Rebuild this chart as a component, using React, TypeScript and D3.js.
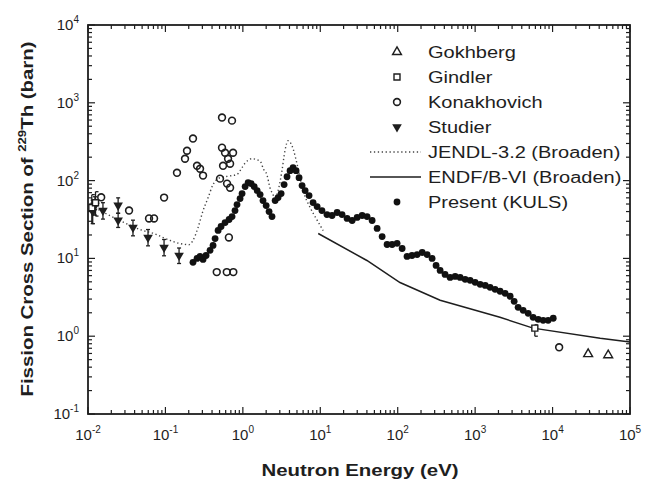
import React from 'react';
import * as d3 from 'd3';

// ---------- data ----------
const xTickExps = [-2, -1, 0, 1, 2, 3, 4, 5];
const yTickExps = [-1, 0, 1, 2, 3, 4];

const legendLabels = [
  'Gokhberg',
  'Gindler',
  'Konakhovich',
  'Studier',
  'JENDL-3.2 (Broaden)',
  'ENDF/B-VI (Broaden)',
  'Present (KULS)',
];

const presentE = [
  0.227, 0.256, 0.28, 0.306, 0.335, 0.377, 0.412, 0.438, 0.479, 0.523, 0.589, 0.664, 0.725, 0.792, 0.841,
  0.92, 0.977, 1.07, 1.17, 1.28, 1.4, 1.53, 1.67, 1.82, 2.0, 2.18, 2.38, 2.61, 2.85, 3.12, 3.41, 3.72, 4.07,
  4.45, 4.87, 5.32, 5.82, 6.37, 7.16, 8.07, 9.1, 10.5, 12.2, 14.2, 16.5, 19.1, 22.2, 25.8, 29.9, 34.7, 40.2,
  46.7, 54.2, 62.9, 72.9, 84.7, 98.2, 114, 132, 153, 178, 207, 240, 278, 313, 353, 409, 475, 552, 640, 743,
  861, 1000, 1160, 1350, 1560, 1810, 2100, 2440, 2830, 3190, 3590, 4170, 4840, 5610, 6520, 7560, 8770, 10200,
];
const presentXS = [
  8.9, 10.0, 10.6, 9.7, 10.9, 12.7, 14.7, 18.0, 22.9, 25.7, 28.9, 31.6, 34.5, 41.2, 49.2,
  58.7, 68.1, 83.7, 94.2, 91.5, 83.7, 74.4, 66.1, 55.4, 47.8, 40.0, 34.5, 55.4, 60.5, 68.1, 88.9, 112, 134,
  147, 134, 109, 86.3, 74.4, 64.2, 52.2, 46.4, 41.2, 36.6, 35.6, 38.9, 36.6, 32.6, 30.7, 33.6, 35.6, 34.5,
  30.7, 24.3, 19.1, 15.1, 15.1, 15.6, 13.4, 10.6, 10.9, 11.2, 11.9, 11.2, 10.0, 8.13, 7.01, 6.23, 5.7, 5.87, 5.7, 5.38,
  5.22, 4.92, 4.64, 4.5, 4.25, 4.01, 3.78, 3.56, 3.26, 2.81, 2.35, 2.15, 1.97, 1.75, 1.65, 1.6, 1.6, 1.7,
];

const studierE = [0.0115, 0.0123, 0.0156, 0.0245, 0.0245, 0.0381, 0.0596, 0.096, 0.15];
const studierXS = [40, 47.8, 41.2, 48, 31, 24.9, 18.6, 13.8, 10.9];
const studierLo = [28, 36, 32, 38, 25, 19.5, 14.5, 10.8, 8.6];
const studierHi = [56, 62, 52, 60, 38, 31, 23.5, 17.5, 13.6];

const gindlerE = [0.0112, 0.0125, 5900];
const gindlerXS = [45, 52, 1.27];
const gindlerLo = [28, 35, 1.0];
const gindlerHi = [66, 72, 1.4];

const gokhbergE = [28800, 52300];
const gokhbergXS = [0.59, 0.57];

const konakE = [
  0.0148, 0.0339, 0.0614, 0.0713, 0.0961, 0.141, 0.179, 0.19, 0.227, 0.256, 0.28, 0.306, 0.538, 0.724,
  0.538, 0.589, 0.747, 0.644, 0.555, 0.684, 0.507, 0.625, 0.684, 0.66, 0.46, 0.62, 0.753, 12160,
];
const konakXS = [
  61, 41.2, 32.6, 32.6, 60.5, 126, 191, 242, 347, 155, 142, 116, 646, 590,
  265, 228, 228, 191, 155, 165, 106, 91.5, 81, 18.6, 6.67, 6.67, 6.67, 0.72,
];

const jendlE = [
  0.01, 0.0253, 0.05, 0.07, 0.1, 0.155, 0.2, 0.227, 0.264, 0.306, 0.355, 0.41, 0.507, 0.65, 0.84, 0.92, 1.07,
  1.31, 1.67, 1.85, 2.04, 2.24, 2.45, 2.61, 2.85, 3.2, 3.5, 3.84, 4.45, 5.0, 6.0, 7.4, 9.1, 10.9,
];
const jendlXS = [
  50, 31, 23, 21, 18, 15.5, 15, 17, 25, 41, 60, 88, 109, 114, 120, 134, 168,
  191, 178, 140, 120, 81, 66, 60, 74, 134, 243, 326, 257, 165, 74, 45, 31, 22.8,
];

const endfE = [9.4, 40, 107, 353, 2090, 5600, 41200, 100000];
const endfXS = [20.9, 9.4, 4.9, 2.9, 1.75, 1.27, 0.94, 0.84];

// ---------- chart ----------
const INK = '#1e1e1e';
const FONT = '"Liberation Sans", Arial, Helvetica, sans-serif';

export default function App() {
  const L = 88, R = 630, T = 25, B = 414;
  const x = d3.scaleLog().domain([1e-2, 1e5]).range([L, R]);
  const y = d3.scaleLog().domain([1e-1, 1e4]).range([B, T]);

  const minorX: number[] = [];
  for (let e = -2; e < 5; e++) for (let m = 2; m <= 9; m++) minorX.push(m * Math.pow(10, e));
  const minorY: number[] = [];
  for (let e = -1; e < 4; e++) for (let m = 2; m <= 9; m++) minorY.push(m * Math.pow(10, e));

  const triUp = d3.symbol().type(d3.symbolTriangle).size(34)() as string;
  const triDown = d3.symbol().type(d3.symbolTriangle).size(40)() as string;
  const square = d3.symbol().type(d3.symbolSquare).size(36)() as string;

  const jendlLine = d3
    .line<number>()
    .x((_, i) => x(jendlE[i]))
    .y((d) => y(d))
    .curve(d3.curveMonotoneX)(jendlXS) as string;
  const endfLine = d3
    .line<number>()
    .x((_, i) => x(endfE[i]))
    .y((d) => y(d))(endfXS) as string;

  const majT = 7, minT = 4;
  const legendX = 397, legendTextX = 428, legendY0 = 52, legendDY = 25;

  return (
    <svg
      width={646}
      height={480}
      viewBox="0 0 646 480"
      style={{ position: 'absolute', left: 0, top: 0, background: '#fff' }}
      fontFamily={FONT}
    >
      <rect x={0} y={0} width={646} height={480} fill="#fff" />

      {/* ticks on all four sides */}
      <g stroke={INK} strokeWidth={1.2}>
        {xTickExps.map((e) => {
          const px = x(Math.pow(10, e));
          return (
            <g key={'xt' + e}>
              <line x1={px} x2={px} y1={B} y2={B - majT} />
              <line x1={px} x2={px} y1={T} y2={T + majT} />
            </g>
          );
        })}
        {minorX.map((v, i) => {
          const px = x(v);
          return (
            <g key={'xm' + i}>
              <line x1={px} x2={px} y1={B} y2={B - minT} />
              <line x1={px} x2={px} y1={T} y2={T + minT} />
            </g>
          );
        })}
        {yTickExps.map((e) => {
          const py = y(Math.pow(10, e));
          return (
            <g key={'yt' + e}>
              <line x1={L} x2={L + majT} y1={py} y2={py} />
              <line x1={R} x2={R - majT} y1={py} y2={py} />
            </g>
          );
        })}
        {minorY.map((v, i) => {
          const py = y(v);
          return (
            <g key={'ym' + i}>
              <line x1={L} x2={L + minT} y1={py} y2={py} />
              <line x1={R} x2={R - minT} y1={py} y2={py} />
            </g>
          );
        })}
      </g>

      {/* frame */}
      <rect x={L} y={T} width={R - L} height={B - T} fill="none" stroke={INK} strokeWidth={1.8} />

      {/* tick labels */}
      <g fill={INK} fontSize={15}>
        {xTickExps.map((e) => (
          <text key={'xl' + e} x={x(Math.pow(10, e))} y={440} textAnchor="middle">
            10
            <tspan fontSize={10} dy={-7}>
              {String(e)}
            </tspan>
          </text>
        ))}
        {yTickExps.map((e) => (
          <text key={'yl' + e} x={79} y={y(Math.pow(10, e)) + 5} textAnchor="end">
            10
            <tspan fontSize={10} dy={-7}>
              {String(e)}
            </tspan>
          </text>
        ))}
      </g>

      {/* axis titles */}
      <text
        transform="translate(360,476) scale(1.2,1)"
        textAnchor="middle"
        fontSize={17}
        fontWeight="bold"
        fill={INK}
      >
        Neutron Energy (eV)
      </text>
      <text
        transform="translate(33,219) rotate(-90) scale(1.2,1)"
        textAnchor="middle"
        fontSize={17}
        fontWeight="bold"
        fill={INK}
      >
        Fission Cross Section of{' '}
        <tspan fontSize={11} dy={-7}>
          229
        </tspan>
        <tspan dy={7}>Th (barn)</tspan>
      </text>

      {/* evaluated curves */}
      <path d={jendlLine} fill="none" stroke="#444" strokeWidth={1.4} strokeDasharray="1.3,2.6" />
      <path d={endfLine} fill="none" stroke={INK} strokeWidth={1.5} />

      {/* Studier with error bars */}
      <g stroke={INK} strokeWidth={1.3}>
        {studierE.map((e, i) => (
          <g key={'se' + i}>
            <line x1={x(e)} x2={x(e)} y1={y(studierLo[i])} y2={y(studierHi[i])} />
            <line x1={x(e) - 2} x2={x(e) + 2} y1={y(studierLo[i])} y2={y(studierLo[i])} />
            <line x1={x(e) - 2} x2={x(e) + 2} y1={y(studierHi[i])} y2={y(studierHi[i])} />
          </g>
        ))}
        {gindlerE.map((e, i) => (
          <g key={'ge' + i}>
            <line x1={x(e)} x2={x(e)} y1={y(gindlerLo[i])} y2={y(gindlerHi[i])} />
            <line x1={x(e)} x2={x(e) + 3} y1={y(gindlerLo[i])} y2={y(gindlerLo[i])} />
            <line x1={x(e)} x2={x(e) + 3} y1={y(gindlerHi[i])} y2={y(gindlerHi[i])} />
          </g>
        ))}
      </g>
      {studierE.map((e, i) => (
        <path
          key={'s' + i}
          d={triDown}
          transform={`translate(${x(e)},${y(studierXS[i])}) rotate(180)`}
          fill={INK}
        />
      ))}

      {/* Gindler squares */}
      {gindlerE.map((e, i) => (
        <path
          key={'g' + i}
          d={square}
          transform={`translate(${x(e)},${y(gindlerXS[i])})`}
          fill="#fff"
          stroke={INK}
          strokeWidth={1.4}
        />
      ))}

      {/* Gokhberg triangles */}
      {gokhbergE.map((e, i) => (
        <path
          key={'k' + i}
          d={triUp}
          transform={`translate(${x(e)},${y(gokhbergXS[i])})`}
          fill="none"
          stroke={INK}
          strokeWidth={1.4}
        />
      ))}

      {/* Konakhovich */}
      {konakE.map((e, i) => (
        <circle
          key={'c' + i}
          cx={x(e)}
          cy={y(konakXS[i])}
          r={3.4}
          fill="none"
          stroke={INK}
          strokeWidth={1.6}
        />
      ))}

      {/* Present (KULS) */}
      {presentE.map((e, i) => (
        <circle key={'p' + i} cx={x(e)} cy={y(presentXS[i])} r={3.4} fill="#111" />
      ))}

      {/* legend */}
      <g>
        <path d={triUp} transform={`translate(${legendX},${legendY0})`} fill="none" stroke={INK} strokeWidth={1.4} />
        <path
          d={square}
          transform={`translate(${legendX},${legendY0 + legendDY})`}
          fill="none"
          stroke={INK}
          strokeWidth={1.4}
        />
        <circle cx={legendX} cy={legendY0 + 2 * legendDY} r={3.4} fill="none" stroke={INK} strokeWidth={1.6} />
        <path d={triDown} transform={`translate(${legendX},${legendY0 + 3 * legendDY}) rotate(180)`} fill={INK} />
        <line
          x1={370}
          x2={421}
          y1={legendY0 + 4 * legendDY}
          y2={legendY0 + 4 * legendDY}
          stroke="#444"
          strokeWidth={1.4}
          strokeDasharray="1.3,2.6"
        />
        <line
          x1={370}
          x2={421}
          y1={legendY0 + 5 * legendDY}
          y2={legendY0 + 5 * legendDY}
          stroke={INK}
          strokeWidth={1.5}
        />
        <circle cx={legendX} cy={legendY0 + 6 * legendDY} r={3.4} fill="#111" />
        {legendLabels.map((t, i) => (
          <text
            key={'lt' + i}
            transform={`translate(${legendTextX},${legendY0 + i * legendDY + 6}) scale(1.25,1)`}
            fontSize={16}
            fill={INK}
          >
            {t}
          </text>
        ))}
      </g>
    </svg>
  );
}
